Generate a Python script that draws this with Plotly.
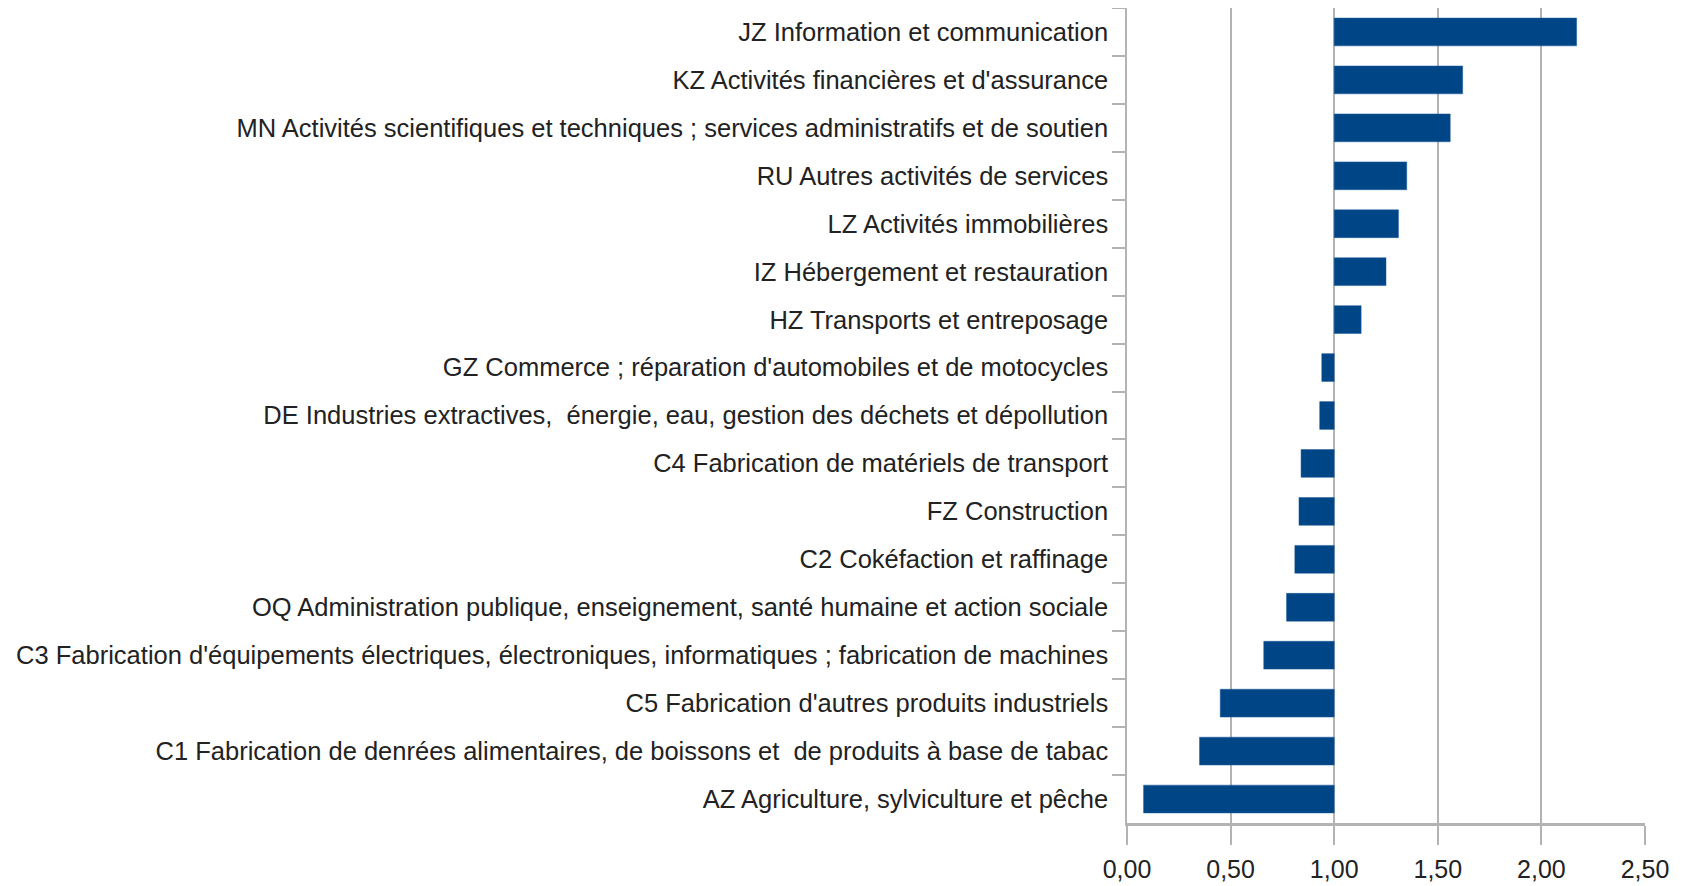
import plotly.graph_objects as go

categories = [
    "JZ Information et communication",
    "KZ Activités financières et d'assurance",
    "MN Activités scientifiques et techniques ; services administratifs et de soutien",
    "RU Autres activités de services",
    "LZ Activités immobilières",
    "IZ Hébergement et restauration",
    "HZ Transports et entreposage",
    "GZ Commerce ; réparation d'automobiles et de motocycles",
    "DE Industries extractives,  énergie, eau, gestion des déchets et dépollution",
    "C4 Fabrication de matériels de transport",
    "FZ Construction",
    "C2 Cokéfaction et raffinage",
    "OQ Administration publique, enseignement, santé humaine et action sociale",
    "C3 Fabrication d'équipements électriques, électroniques, informatiques ; fabrication de machines",
    "C5 Fabrication d'autres produits industriels",
    "C1 Fabrication de denrées alimentaires, de boissons et  de produits à base de tabac",
    "AZ Agriculture, sylviculture et pêche",
]
values = [2.17, 1.62, 1.56, 1.35, 1.31, 1.25, 1.13, 0.94, 0.93, 0.84, 0.83, 0.81, 0.77, 0.66, 0.45, 0.35, 0.08]
baseline = 1.0
x_ticks = [0, 0.5, 1.0, 1.5, 2.0, 2.5]

GRID = "#b3b3b3"
FONT = "Liberation Sans, Arial, sans-serif"
TXT = "#222222"

fig = go.Figure()
fig.add_trace(go.Bar(
    y=categories,
    x=[v - baseline for v in values],
    base=baseline,
    orientation="h",
    marker=dict(color="#004586", line=dict(color="#1a5a9a", width=0.5)),
    width=0.58,
    showlegend=False,
    hoverinfo="skip",
))

xmin, xmax = 0, 2.5
fig.update_layout(
    width=1668, height=878,
    margin=dict(l=1119, r=31, t=0, b=63, autoexpand=False),
    paper_bgcolor="white", plot_bgcolor="white",
    separators=",.",
    font=dict(family=FONT, size=25, color=TXT),
    xaxis=dict(
        range=[xmin, xmax], tickvals=x_ticks, tickformat=".2f",
        showgrid=True, gridcolor=GRID, gridwidth=1.5,
        showline=True, linecolor=GRID, linewidth=2.5, mirror=True,
        ticks="outside", ticklen=19, tickcolor=GRID, tickwidth=1.5,
        ticklabelstandoff=3,
        zeroline=False, tickfont=dict(size=25, color=TXT),
    ),
    yaxis=dict(
        autorange=False, range=[len(categories) - 0.5, -0.5],
        type="category",
        showgrid=False, showline=True, linecolor=GRID, linewidth=1.5,
        ticks="outside", ticklen=13, tickcolor=GRID, tickwidth=1.5,
        tickson="boundaries", ticklabelstandoff=12,
        tickfont=dict(size=25.5, color=TXT),
    ),
    yaxis2=dict(
        overlaying="y", anchor="free",
        position=(baseline - xmin) / (xmax - xmin),
        side="left",
        range=[len(categories) - 0.5, -0.5],
        tickmode="array",
        tickvals=[i - 0.5 for i in range(len(categories) + 1)],
        showticklabels=False, showgrid=False, showline=False, zeroline=False,
        ticks="outside", ticklen=10, tickcolor=GRID, tickwidth=1.5,
    ),
)

fig.write_html("out.html")
